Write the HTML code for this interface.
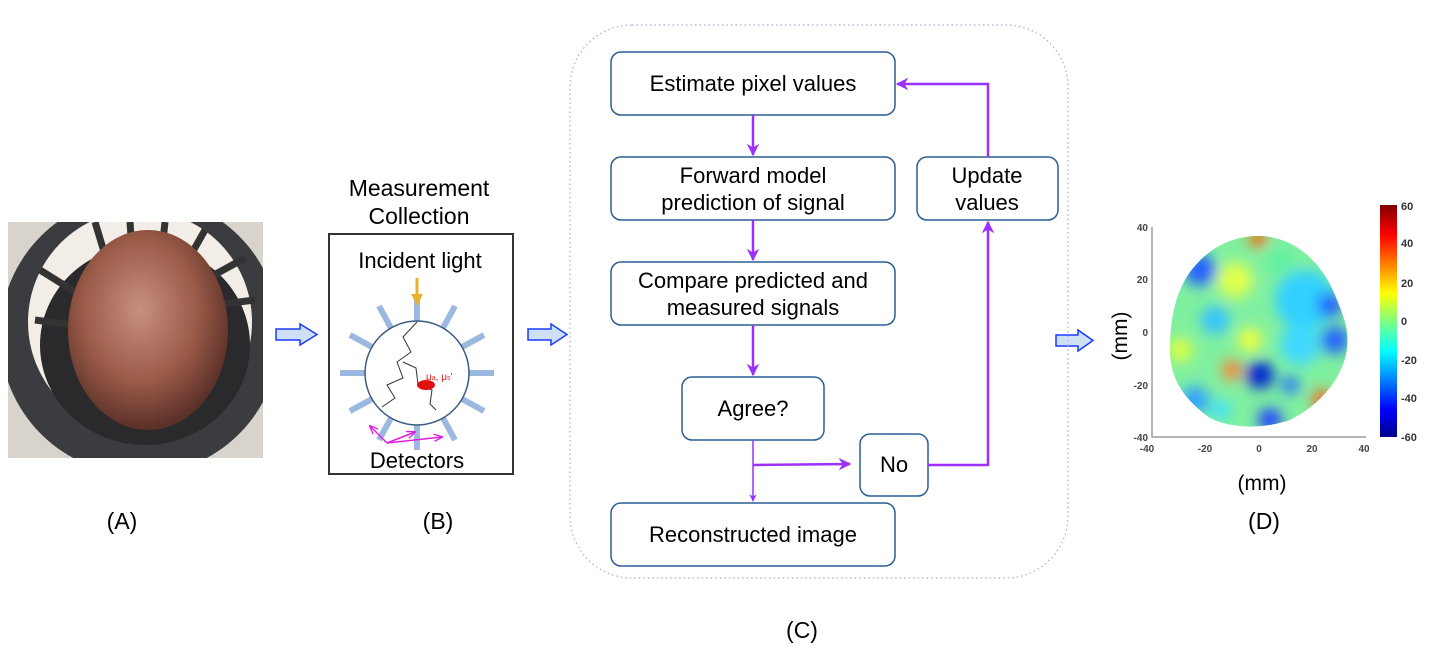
<!DOCTYPE html>
<html><head><meta charset="utf-8"><style>
html,body{margin:0;padding:0;background:#fff;width:1434px;height:668px;overflow:hidden}
svg text{font-family:"Liberation Sans",sans-serif}
</style></head><body>
<svg width="1434" height="668" viewBox="0 0 1434 668" xmlns="http://www.w3.org/2000/svg">
<defs>
<marker id="ah" viewBox="0 0 10 10" refX="9" refY="5" markerWidth="5" markerHeight="5" orient="auto-start-reverse" markerUnits="strokeWidth">
<path d="M0,0 L10,5 L0,10 L3,5 z" fill="#9b30ff"/></marker>
<marker id="pm" viewBox="0 0 10 10" refX="9" refY="5" markerWidth="6" markerHeight="6" orient="auto"><path d="M0,1 L10,5 L0,9" fill="none" stroke="#e020e0" stroke-width="1.5"/></marker>
<radialGradient id="head" cx="0.45" cy="0.4" r="0.6"><stop offset="0" stop-color="#c89080"/><stop offset="0.6" stop-color="#9a5a48"/><stop offset="1" stop-color="#5a3028"/></radialGradient>
<clipPath id="photo"><rect x="8" y="222" width="255" height="236"/></clipPath>
<clipPath id="blob"><path d="M1258,236 C1300,236 1325,270 1335,295 C1345,320 1350,330 1346,355 C1340,380 1320,405 1290,420 C1260,430 1230,428 1210,418 C1185,400 1170,380 1170,350 C1170,320 1175,295 1188,275 C1205,250 1230,236 1258,236 Z"/></clipPath>
<linearGradient id="cb" x1="0" y1="1" x2="0" y2="0"><stop offset="0" stop-color="#00008f"/><stop offset="0.12" stop-color="#0000ff"/><stop offset="0.37" stop-color="#00ffff"/><stop offset="0.5" stop-color="#7fff7f"/><stop offset="0.62" stop-color="#ffff00"/><stop offset="0.87" stop-color="#ff0000"/><stop offset="1" stop-color="#800000"/></linearGradient>
<filter id="bl"><feGaussianBlur stdDeviation="7"/></filter>
</defs>

<!-- (A) photo -->
<g clip-path="url(#photo)">
<rect x="8" y="222" width="255" height="236" fill="#d8d4cc"/>
<ellipse cx="140" cy="335" rx="140" ry="140" fill="#3a3c40"/>
<ellipse cx="140" cy="322" rx="112" ry="112" fill="#f2ede6"/>
<ellipse cx="145" cy="345" rx="105" ry="100" fill="#2a2a2c"/>
<g stroke="#333" stroke-width="7">
<line x1="40" y1="270" x2="80" y2="295"/><line x1="35" y1="320" x2="72" y2="325"/><line x1="95" y1="222" x2="105" y2="255"/><line x1="130" y1="222" x2="132" y2="250"/><line x1="165" y1="222" x2="162" y2="250"/><line x1="205" y1="230" x2="188" y2="260"/><line x1="245" y1="258" x2="205" y2="280"/><line x1="255" y1="300" x2="215" y2="305"/>
</g>
<ellipse cx="148" cy="330" rx="80" ry="100" fill="url(#head)"/>
</g>
<!-- arrows -->
<g fill="#cfe0f4" stroke="#1a3cff" stroke-width="1.5">
<path d="M276,329 H300 V324 L317,334.5 L300,345 V340 H276 Z"/>
<path d="M528,329 H551 V324 L567,334.5 L551,345 V340 H528 Z"/>
<path d="M1056,335 H1078 V330 L1093,340.5 L1078,351 V346 H1056 Z"/>
</g>

<!-- (B) -->
<text x="419" y="196" font-size="23" text-anchor="middle">Measurement</text>
<text x="419" y="224" font-size="23" text-anchor="middle">Collection</text>
<rect x="329" y="234" width="184" height="240" fill="#fff" stroke="#333" stroke-width="2"/>
<text x="420" y="268" font-size="22" text-anchor="middle">Incident light</text>
<g stroke="#9ab8e0" stroke-width="6" stroke-linecap="butt">
<line x1="417" y1="321" x2="417" y2="296"/>
<line x1="443" y1="328" x2="455" y2="306"/>
<line x1="462" y1="347" x2="484" y2="335"/>
<line x1="469" y1="373" x2="494" y2="373"/>
<line x1="462" y1="399" x2="484" y2="411"/>
<line x1="443" y1="418" x2="455" y2="440"/>
<line x1="417" y1="425" x2="417" y2="450"/>
<line x1="391" y1="418" x2="379" y2="440"/>
<line x1="372" y1="399" x2="350" y2="411"/>
<line x1="365" y1="373" x2="340" y2="373"/>
<line x1="372" y1="347" x2="350" y2="335"/>
<line x1="391" y1="328" x2="379" y2="306"/>
</g>
<circle cx="417" cy="373" r="52" fill="#fff" stroke="#3a5a80" stroke-width="1.5"/>
<path d="M417,278 V302" stroke="#e8b030" stroke-width="3"/>
<path d="M411,294 L417,306 L423,294 Z" fill="#e8b030"/>
<polyline points="417,322 403,337 411,352 397,362 403,378 387,385 395,398 382,407" fill="none" stroke="#333" stroke-width="1"/>
<polyline points="403,362 416,368 418,385 432,390 430,404 436,410" fill="none" stroke="#333" stroke-width="1"/>
<ellipse cx="426" cy="385" rx="9" ry="5" fill="#e01010"/>
<text x="426" y="380" font-size="10" fill="#e02020">μ<tspan font-size="7">a</tspan>, μ<tspan font-size="7">s</tspan>'</text>
<g stroke="#e020e0" stroke-width="1.5" fill="none">
<line x1="387" y1="443" x2="370" y2="426" marker-end="url(#pm)"/>
<line x1="387" y1="443" x2="415" y2="432" marker-end="url(#pm)"/>
<line x1="387" y1="443" x2="442" y2="437" marker-end="url(#pm)"/>
</g>
<text x="417" y="468" font-size="22" text-anchor="middle">Detectors</text>

<!-- (C) container -->
<rect x="570" y="25" width="498" height="553" rx="62" fill="none" stroke="#a8a8dc" stroke-width="1.2" stroke-dasharray="1.5,3"/>
<g fill="#fff" stroke="#2b5d93" stroke-width="1.5">
<rect x="611" y="52" width="284" height="63" rx="10"/>
<rect x="611" y="157" width="284" height="63" rx="10"/>
<rect x="611" y="262" width="284" height="63" rx="10"/>
<rect x="917" y="157" width="141" height="63" rx="10"/>
<rect x="682" y="377" width="142" height="63" rx="10"/>
<rect x="860" y="434" width="68" height="62" rx="10"/>
<rect x="611" y="503" width="284" height="63" rx="10"/>
</g>
<g font-size="22" text-anchor="middle">
<text x="753" y="91">Estimate pixel values</text>
<text x="753" y="183">Forward model</text>
<text x="753" y="210">prediction of signal</text>
<text x="753" y="288">Compare predicted and</text>
<text x="753" y="315">measured signals</text>
<text x="987" y="183">Update</text>
<text x="987" y="210">values</text>
<text x="753" y="416">Agree?</text>
<text x="894" y="472">No</text>
<text x="753" y="542">Reconstructed image</text>
</g>
<g stroke="#9b30ff" stroke-width="2.5" fill="none">
<line x1="753" y1="115" x2="753" y2="155" marker-end="url(#ah)"/>
<line x1="753" y1="220" x2="753" y2="260" marker-end="url(#ah)"/>
<line x1="753" y1="325" x2="753" y2="375" marker-end="url(#ah)"/>
<polyline points="988,157 988,84 897,84" marker-end="url(#ah)"/>
<polyline points="928,465 988,465 988,222" marker-end="url(#ah)"/>
<line x1="753" y1="465" x2="850" y2="464" marker-end="url(#ah)"/>
</g>
<line x1="753" y1="440" x2="753" y2="501" stroke="#9b30ff" stroke-width="1.5" marker-end="url(#ah)"/>

<!-- (D) heatmap -->
<g clip-path="url(#blob)">
<rect x="1160" y="230" width="200" height="205" fill="#80f0a0"/>
<g filter="url(#bl)">
<circle cx="1200" cy="270" r="16" fill="#2060ff"/>
<circle cx="1215" cy="320" r="14" fill="#30c0ff"/>
<circle cx="1305" cy="300" r="30" fill="#30d0ff"/>
<circle cx="1330" cy="305" r="12" fill="#2050ff"/>
<circle cx="1335" cy="340" r="14" fill="#2060ff"/>
<circle cx="1300" cy="345" r="20" fill="#40d8ff"/>
<circle cx="1260" cy="375" r="14" fill="#0020d0"/>
<circle cx="1232" cy="370" r="10" fill="#ff8030"/>
<circle cx="1290" cy="385" r="9" fill="#2070ff"/>
<circle cx="1322" cy="400" r="10" fill="#ff6020"/>
<circle cx="1195" cy="400" r="14" fill="#30a0ff"/>
<circle cx="1270" cy="420" r="12" fill="#2040ff"/>
<circle cx="1258" cy="238" r="9" fill="#ff6000"/>
<circle cx="1250" cy="340" r="12" fill="#f0ff40"/>
<circle cx="1235" cy="280" r="18" fill="#e0ff50"/>
<circle cx="1180" cy="350" r="12" fill="#e0ff40"/>
<circle cx="1280" cy="260" r="14" fill="#60f0a0"/>
<circle cx="1220" cy="410" r="10" fill="#40e0ff"/>
</g>
</g>
<g stroke="#888" stroke-width="1.2" fill="none">
<polyline points="1152,227 1152,437 1366,437"/>
</g>
<g font-family="Liberation Serif,serif" font-size="10" fill="#444" font-weight="bold" text-anchor="end">
<text x="1148" y="231">40</text><text x="1148" y="283">20</text><text x="1148" y="336">0</text><text x="1148" y="389">-20</text><text x="1148" y="441">-40</text>
</g>
<g font-family="Liberation Serif,serif" font-size="10" fill="#444" font-weight="bold" text-anchor="middle">
<text x="1147" y="452">-40</text><text x="1205" y="452">-20</text><text x="1259" y="452">0</text><text x="1312" y="452">20</text><text x="1364" y="452">40</text>
</g>
<rect x="1380" y="205" width="17" height="232" fill="url(#cb)"/>
<g font-family="Liberation Serif,serif" font-size="11" fill="#333" font-weight="bold">
<text x="1401" y="210">60</text><text x="1401" y="247">40</text><text x="1401" y="287">20</text><text x="1401" y="325">0</text><text x="1401" y="364">-20</text><text x="1401" y="402">-40</text><text x="1401" y="441">-60</text>
</g>
<text x="1262" y="490" font-size="21" text-anchor="middle">(mm)</text>
<text transform="translate(1127,336) rotate(-90)" font-size="21" text-anchor="middle">(mm)</text>

<!-- labels -->
<g font-size="23" text-anchor="middle">
<text x="122" y="529">(A)</text>
<text x="438" y="529">(B)</text>
<text x="802" y="638">(C)</text>
<text x="1264" y="529">(D)</text>
</g>
</svg>
</body></html>
